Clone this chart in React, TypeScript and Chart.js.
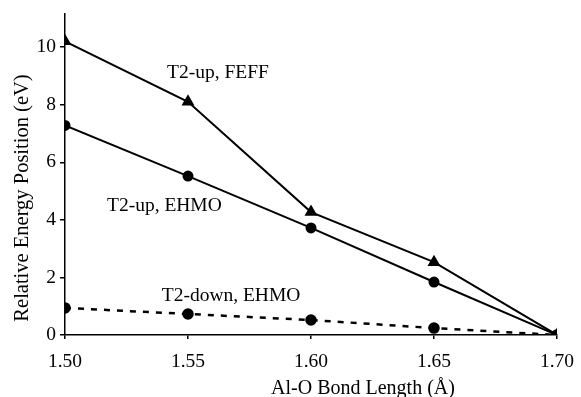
import React, { useEffect, useRef } from "react";
import { Chart, registerables } from "chart.js";

Chart.register(...registerables);

const bondLengths = [1.5, 1.55, 1.6, 1.65, 1.7];
const feffUp = [10.2, 8.1, 4.27, 2.53, 0];
const ehmoUp = [7.28, 5.52, 3.72, 1.84, 0];
const ehmoDown = [0.94, 0.73, 0.52, 0.24, 0];

const xTicks = [1.5, 1.55, 1.6, 1.65, 1.7];
const yTicks = [0, 2, 4, 6, 8, 10];

const seriesLabels = ["T2-up, FEFF", "T2-up, EHMO", "T2-down, EHMO"];
const xTitle = "Al-O Bond Length (Å)";
const yTitle = "Relative Energy Position (eV)";

const FONT = '"Liberation Serif", "Times New Roman", serif';

const toPoints = (ys: number[]) => bondLengths.map((x, i) => ({ x, y: ys[i] }));

const textPlugin = {
  id: "textPlugin",
  afterDraw(chart: any) {
    const { ctx, scales, chartArea } = chart;
    const xs = scales.x;
    const ys = scales.y;
    ctx.save();
    ctx.fillStyle = "#000";
    ctx.font = `19.5px ${FONT}`;
    ctx.textAlign = "center";
    ctx.textBaseline = "middle";
    const anchors = [
      { x: 1.5622, y: 9.1 },
      { x: 1.5404, y: 4.5 },
      { x: 1.5675, y: 1.35 },
    ];
    seriesLabels.forEach((t, i) => {
      ctx.fillText(t, xs.getPixelForValue(anchors[i].x), ys.getPixelForValue(anchors[i].y));
    });
    // axis titles
    ctx.font = `20px ${FONT}`;
    ctx.fillText(xTitle, chartArea.left + 298, chartArea.bottom + 54);
    ctx.font = `20.5px ${FONT}`;
    ctx.translate(chartArea.left - 42, chartArea.top + 184);
    ctx.rotate(-Math.PI / 2);
    ctx.fillText(yTitle, 0, 0);
    ctx.restore();
  },
};

export default function App() {
  const ref = useRef<HTMLCanvasElement>(null);
  useEffect(() => {
    document.body.style.margin = "0";
    const common = {
      borderColor: "#000",
      backgroundColor: "#000",
      pointBackgroundColor: "#000",
      pointBorderColor: "#000",
      fill: false,
      tension: 0,
    };
    const chart = new Chart(ref.current!, {
      type: "line",
      data: {
        datasets: [
          {
            ...common,
            label: seriesLabels[0],
            data: toPoints(feffUp),
            borderWidth: 2,
            pointStyle: "triangle",
            pointRadius: 5.5,
          },
          {
            ...common,
            label: seriesLabels[1],
            data: toPoints(ehmoUp),
            borderWidth: 2,
            pointStyle: "circle",
            pointRadius: 4.5,
          },
          {
            ...common,
            label: seriesLabels[2],
            data: toPoints(ehmoDown),
            borderWidth: 2.5,
            borderDash: [6, 7],
            pointStyle: "circle",
            pointRadius: 4.5,
          },
        ],
      },
      options: {
        responsive: false,
        animation: false,
        layout: { padding: { top: 14, right: 24, left: 0, bottom: 0 } },
        plugins: {
          legend: { display: false },
          tooltip: { enabled: false },
        },
        scales: {
          x: {
            type: "linear",
            min: 1.5,
            max: 1.7,
            afterBuildTicks: (s: any) => {
              s.ticks = xTicks.map((v) => ({ value: v }));
            },
            afterFit: (s: any) => {
              s.height = 62;
              s.paddingLeft = 0;
              s.paddingRight = 0;
            },
            ticks: {
              color: "#000",
              font: { family: FONT, size: 19.5 },
              padding: 11,
              maxRotation: 0,
              callback: (v: any) => Number(v).toFixed(2),
            },
            grid: {
              display: true,
              drawOnChartArea: false,
              drawTicks: true,
              tickLength: 4,
              color: "#000",
              lineWidth: 1.5,
            },
            border: { display: true, color: "#000", width: 1.5 },
          },
          y: {
            type: "linear",
            min: 0,
            max: 11.15,
            afterBuildTicks: (s: any) => {
              s.ticks = yTicks.map((v) => ({ value: v }));
            },
            afterFit: (s: any) => {
              s.width = 65;
              s.paddingTop = 0;
              s.paddingBottom = 0;
            },
            ticks: {
              color: "#000",
              font: { family: FONT, size: 19.5 },
              padding: 4,
            },
            grid: {
              display: true,
              drawOnChartArea: false,
              drawTicks: true,
              tickLength: 5,
              color: "#000",
              lineWidth: 1.5,
            },
            border: { display: true, color: "#000", width: 1.5 },
          },
        },
      },
      plugins: [textPlugin],
    });
    return () => chart.destroy();
  }, []);
  return (
    <div style={{ width: 581, height: 397 }}>
      <canvas ref={ref} width={581} height={397} style={{ display: "block" }} />
    </div>
  );
}
